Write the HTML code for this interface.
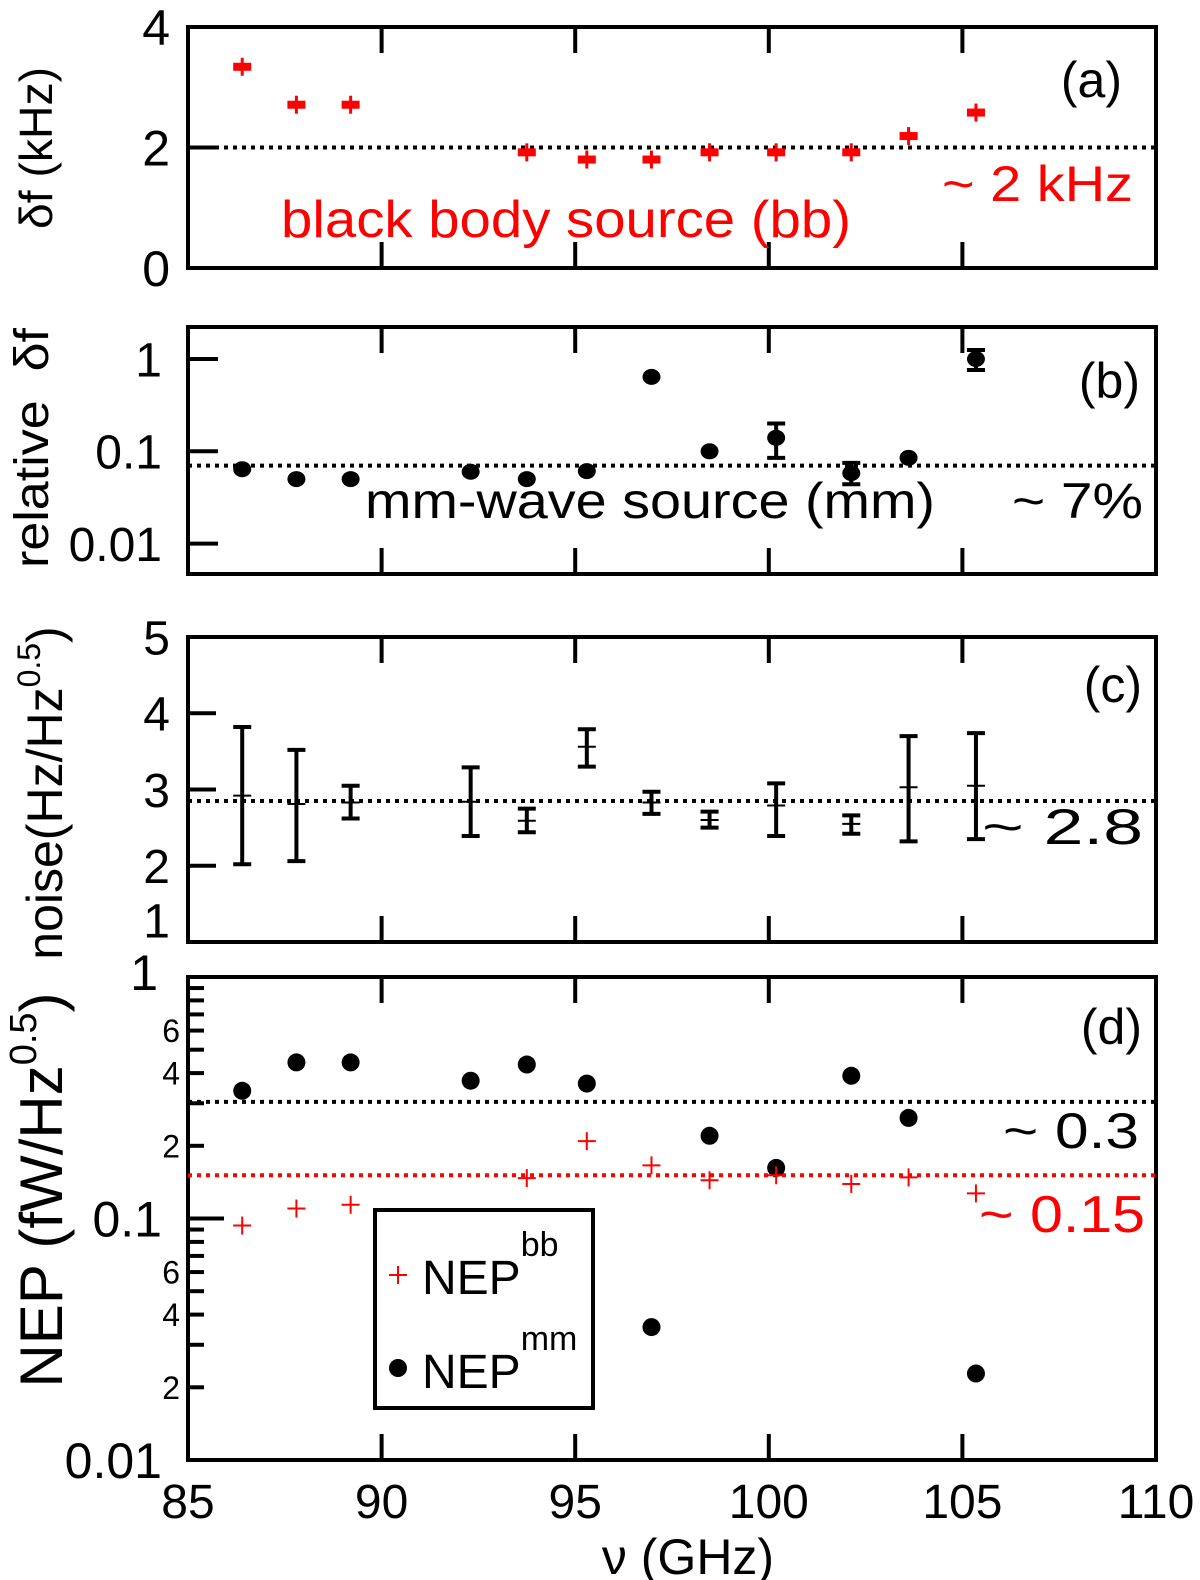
<!DOCTYPE html>
<html><head><meta charset="utf-8"><style>
html,body{margin:0;padding:0;background:#fff}
svg{display:block;font-family:"Liberation Sans","DejaVu Sans",sans-serif}
</style></head><body>
<svg id="fig" width="1200" height="1580" viewBox="0 0 1200 1580" xmlns="http://www.w3.org/2000/svg">
<g id="g"></g>
</svg>
<script>
const freqA=[86.4,87.8,89.2,93.75,95.3,96.97,98.47,100.19,102.13,103.61,105.35];
const dfA=[3.34,2.71,2.71,1.92,1.80,1.80,1.92,1.92,1.92,2.19,2.58];
const freqB=[86.4,87.8,89.2,92.3,93.75,95.3,96.97,98.47,100.19,102.13,103.61,105.35];
const relB=[0.064,0.050,0.050,0.060,0.050,0.061,0.64,0.10,0.14,0.058,0.085,1.0];
const relBHi=[null,null,null,null,null,null,null,null,0.20,0.075,null,1.25];
const relBLo=[null,null,null,null,null,null,null,null,0.085,0.044,null,0.76];
const noiseC=[2.92,2.81,2.83,2.84,2.59,3.56,2.83,2.60,2.79,2.55,3.03,3.05];
const noiseHi=[3.82,3.52,3.05,3.29,2.75,3.79,2.97,2.71,3.08,2.66,3.70,3.74];
const noiseLo=[2.02,2.06,2.62,2.39,2.44,3.30,2.68,2.50,2.39,2.42,2.32,2.35];
const nepMM=[0.338,0.443,0.443,0.372,0.434,0.362,0.0355,0.22,0.162,0.39,0.261,0.0228];
const freqBB=[86.4,87.8,89.2,93.75,95.3,96.97,98.47,100.19,102.13,103.61,105.35];
const nepBB=[0.0935,0.110,0.114,0.147,0.209,0.166,0.144,0.151,0.139,0.148,0.127];
const xTicks=[85,90,95,100,105,110];
const refA=2.0, refB=0.07, refC=2.85, refD1=0.304, refD2=0.151;

const NS="http://www.w3.org/2000/svg";
const G=document.getElementById('g');
function mk(tag,attrs,parent){const e=document.createElementNS(NS,tag);for(const k in attrs)e.setAttribute(k,attrs[k]);(parent||G).appendChild(e);return e;}
const X0=188,X1=1156;
const sx=v=>X0+(v-85)/(110-85)*(X1-X0);
const P={a:{t:27,b:268},b:{t:327,b:574},c:{t:637,b:942},d:{t:977,b:1460}};
const ya=v=>P.a.b-(v/4)*(P.a.b-P.a.t);
const yb=v=>359-(Math.log10(v))*92.3;
const yc=v=>P.c.b-(v-1)/4*(P.c.b-P.c.t);
const yd=v=>P.d.t-Math.log10(v)*241.5;

function frame(p,name){
  const r=mk('rect',{x:X0,y:p.t,width:X1-X0,height:p.b-p.t,fill:'none',stroke:'#000','stroke-width':4});
  
  
  for(const t of xTicks.slice(1,-1)){
    const x=sx(t);
    const a=mk('line',{x1:x,y1:p.t,x2:x,y2:p.t+26,stroke:'#000','stroke-width':4});
    
    
    const b=mk('line',{x1:x,y1:p.b,x2:x,y2:p.b-26,stroke:'#000','stroke-width':4});
    
    
  }
}
function ytick(y,len,label,fs,name,gap,dy){
  const l=mk('line',{x1:X0,y1:y,x2:X0+len,y2:y,stroke:'#000','stroke-width':4});
  
  
  if(label!==null){
    const t=mk('text',{x:X0-(gap||26),y:y+fs*0.36+(dy||0),'font-size':fs,'text-anchor':'end',fill:'#000'});
    t.textContent=label;
    
    
  }
}
function dotted(y,color,name){
  const l=mk('line',{x1:X0,y1:y,x2:X1,y2:y,stroke:color,'stroke-width':4,'stroke-dasharray':'4 5'});
  
  
}
function txt(x,y,s,fs,color,name,anchor,len){
  const a={x:x,y:y,'font-size':fs,fill:color,'text-anchor':anchor||'start'};
  if(len){a.textLength=len;a.lengthAdjust='spacingAndGlyphs';}
  const t=mk('text',a);
  t.textContent=s;
  
  
  return t;
}
function vtitle(cx,cy,html,name,fs,len){
  const a={x:0,y:0,'font-size':fs,fill:'#000','text-anchor':'middle',transform:`translate(${cx},${cy}) rotate(-90)`};
  if(len){a.textLength=len;a.lengthAdjust='spacingAndGlyphs';}
  const t=mk('text',a);
  t.innerHTML=html;
  
  
}
function errbar(x,y1,y2,cap,name){
  const g=mk('g',{stroke:'#000','stroke-width':4});
  
  
  mk('line',{x1:x,y1:y1,x2:x,y2:y2},g);
  mk('line',{x1:x-cap,y1:y1,x2:x+cap,y2:y1},g);
  mk('line',{x1:x-cap,y1:y2,x2:x+cap,y2:y2},g);
}
function plus(x,y,s,color,w,name){
  const g=mk('g',{stroke:color,'stroke-width':w});
  
  
  mk('line',{x1:x-s,y1:y,x2:x+s,y2:y},g);
  mk('line',{x1:x,y1:y-s,x2:x,y2:y+s},g);
}

// Panel a
frame(P.a,'panel-a-frame');
[[0,'0'],[2,'2'],[4,'4']].forEach(([v,l])=>ytick(ya(v),28,l,50,'y-tick-a',18));
dotted(ya(refA),'#000','reference-line-a');
freqA.forEach((f,i)=>{
  const x=sx(f),y=ya(dfA[i]);
  const r=mk('rect',{x:x-9,y:y-4,width:18,height:8,fill:'#f00'});
  
  
  const l=mk('line',{x1:x,y1:y-9,x2:x,y2:y+9,stroke:'#f00','stroke-width':3});
  
  
});
txt(1122,97,'(a)',50,'#000','panel-a-label','end');
txt(942,201,'~ 2 kHz',50,'#f00','annotation-2khz','start',191);
txt(281,237,'black body source (bb)',52,'#f00','annotation-bb-source','start',570);
vtitle(52,148,'δf (kHz)','y-axis-title-a',46,162);

// Panel b
frame(P.b,'panel-b-frame');
[[1,'1'],[0.1,'0.1'],[0.01,'0.01']].forEach(([v,l])=>ytick(yb(v),30,l,48,'y-tick-b'));
dotted(yb(refB),'#000','reference-line-b');
freqB.forEach((f,i)=>{
  const x=sx(f);
  if(relBHi[i]!==null) errbar(x,yb(relBHi[i]),yb(relBLo[i]),9,'mm-errbar-b');
  const e=mk('ellipse',{cx:x,cy:yb(relB[i]),rx:9,ry:8,fill:'#000'});
  
  
});
txt(1140,398,'(b)',50,'#000','panel-b-label','end');
txt(365,518,'mm-wave source (mm)',50,'#000','annotation-mm-source','start',570);
txt(1012,518,'~ 7%',50,'#000','annotation-7pct','start',131);
vtitle(48,448,'relative\u00a0\u00a0δf','y-axis-title-b',48,240);

// Panel c
frame(P.c,'panel-c-frame');
[1,2,3,4,5].forEach(v=>ytick(yc(v),28,String(v),48,'y-tick-c',18,v===1?-22:0));
dotted(yc(refC),'#000','reference-line-c');
freqB.forEach((f,i)=>{
  const x=sx(f);
  errbar(x,yc(noiseHi[i]),yc(noiseLo[i]),9,'noise-errbar-c');
  const l=mk('line',{x1:x-9,y1:yc(noiseC[i]),x2:x+9,y2:yc(noiseC[i]),stroke:'#000','stroke-width':2});
  
  
});
txt(1142,702,'(c)',50,'#000','panel-c-label','end');
txt(982,844,'~ 2.8',50,'#000','annotation-2-8','start',161);
vtitle(62,793,'noise(Hz/Hz<tspan dy="-22" font-size="32">0.5</tspan><tspan dy="22">)</tspan>','y-axis-title-c',50);

// Panel d
frame(P.d,'panel-d-frame');
[1,0.1,0.01].forEach(dec=>{
  ytick(yd(dec),36,null,42,'y-major-tick-d');
  if(dec<1){for(let m=2;m<=9;m++){ytick(yd(dec*m),16,(m%2===0&&m<8)?String(m):null,32,'y-minor-tick-d',8);}}
});
[[1,'1'],[0.1,'0.1'],[0.01,'0.01']].forEach(([v,l])=>{
  txt(v===1?158:X0-26,yd(v)+(v===1?13:18),l,50,'#000','y-major-label-d','end');
});
dotted(yd(refD1),'#000','reference-line-d-mm');
dotted(yd(refD2),'#f00','reference-line-d-bb');
freqB.forEach((f,i)=>{
  const c=mk('circle',{cx:sx(f),cy:yd(nepMM[i]),r:9,fill:'#000'});
  
  
});
freqBB.forEach((f,i)=>plus(sx(f),yd(nepBB[i]),9,'#f00',2,'nep-bb-point'));
txt(1142,1044,'(d)',50,'#000','panel-d-label','end');
txt(1003,1148,'~ 0.3',50,'#000','annotation-0-3','start',136);
txt(979,1232,'~ 0.15',52,'#f00','annotation-0-15','start',166);
vtitle(62,1190,'NEP (fW/Hz<tspan dy="-26" font-size="38">0.5</tspan><tspan dy="26">)</tspan>','y-axis-title-d',60);

// legend
const lg=mk('g',{});


mk('rect',{x:375,y:1210,width:218,height:198,fill:'#fff',stroke:'#000','stroke-width':4},lg);
plus(398,1275,9,'#f00',2,'legend-marker-bb');
const t1=mk('text',{x:422,y:1294,'font-size':48,fill:'#000'},lg);
t1.innerHTML='NEP<tspan dy="-38" font-size="34">bb</tspan>';


const lc=mk('circle',{cx:398,cy:1368,r:9,fill:'#000'},lg);


const t2=mk('text',{x:422,y:1388,'font-size':48,fill:'#000'},lg);
t2.innerHTML='NEP<tspan dy="-38" font-size="34">mm</tspan>';



// x axis labels
xTicks.forEach(v=>txt(sx(v),1518,String(v),48,'#000','x-tick-label','middle'));
txt(688,1574,'ν (GHz)',50,'#000','x-axis-title','middle');
</script>
</body></html>
